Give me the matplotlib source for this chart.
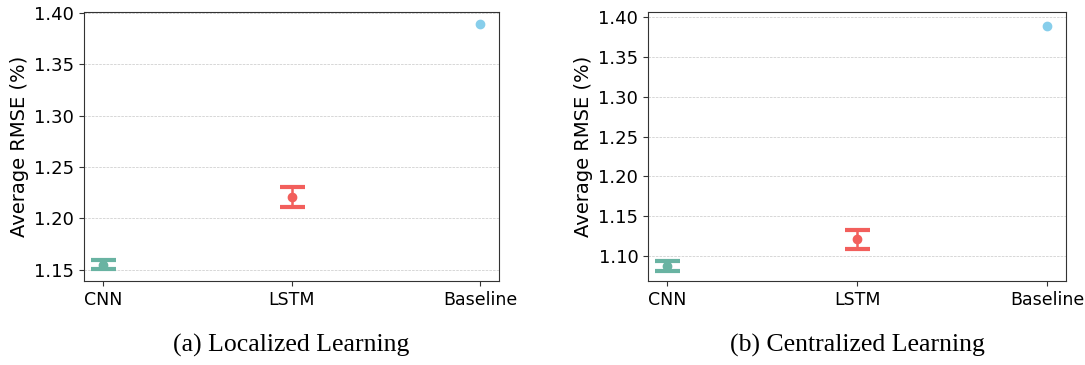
import matplotlib.pyplot as plt

models = ['CNN', 'LSTM', 'Baseline']
colors = ['#69b3a2', '#f25f5c', '#87ceeb']

# localized learning
loc_mean = [1.155, 1.221, 1.389]
loc_err = [0.0045, 0.0095, 0.0]
# centralized learning
cen_mean = [1.088, 1.121, 1.389]
cen_err = [0.006, 0.012, 0.0]

captions = ['(a) Localized Learning', '(b) Centralized Learning']

fig = plt.figure(figsize=(10.85, 3.65), dpi=100)
ax1 = fig.add_axes([84/1085, 1-281/365, 415/1085, 269/365])
ax2 = fig.add_axes([648/1085, 1-281/365, 418/1085, 269/365])

for ax, mean, err, cap, ylim in [(ax1, loc_mean, loc_err, captions[0], (1.139, 1.401)),
                                 (ax2, cen_mean, cen_err, captions[1], (1.069, 1.406))]:
    for i in range(len(models)):
        if err[i] > 0:
            ax.errorbar(i, mean[i], yerr=err[i], fmt='o', color=colors[i],
                        ecolor=colors[i], elinewidth=1.8, capsize=9, capthick=3,
                        markersize=6, zorder=3)
        else:
            ax.plot(i, mean[i], 'o', color=colors[i], markersize=6, zorder=3)
    ax.set_xticks(range(len(models)))
    ax.set_xticklabels(models, fontsize=12.5)
    ax.tick_params(axis='y', labelsize=13)
    ax.tick_params(color='#333333')
    for s in ax.spines.values():
        s.set_color('#333333')
    ax.set_ylim(*ylim)
    ax.set_ylabel('Average RMSE (%)', fontsize=14)
    ax.yaxis.grid(True, linestyle='--', linewidth=0.5, color='#c8c8c8')
    ax.set_axisbelow(True)
    ax.text(0.5, -0.238, cap, transform=ax.transAxes, ha='center', va='center',
            fontsize=18.5, family='Liberation Serif')

fig.savefig('out.png', dpi=100)
